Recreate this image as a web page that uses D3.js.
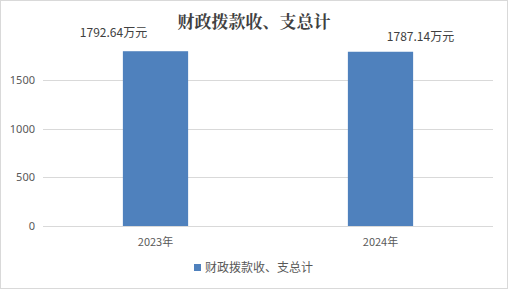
<!DOCTYPE html>
<html>
<head>
<meta charset="utf-8">
<script src="https://cdn.jsdelivr.net/npm/d3@7/dist/d3.min.js"></script>
<style>
  body { margin: 0; background: #fff; }
  svg text { font-family: "Noto Sans CJK SC", "Microsoft YaHei", sans-serif; }
</style>
</head>
<body>
<div id="app"></div>
<script>
const chartTitle = "财政拨款收、支总计";
const categories = ["2023年", "2024年"];
const values     = [1792.64, 1787.14];
const valueLabels = ["1792.64万元", "1787.14万元"];
const yTicks     = [0, 500, 1000, 1500];

const W = 508, H = 290;
const plot = { left: 43, right: 493, top: 31, bottom: 226 };

const svg = d3.select("#app").append("svg")
  .attr("width", W)
  .attr("height", H);

// outer frame
svg.append("rect")
  .attr("x", 0.5).attr("y", 0.5)
  .attr("width", W - 1).attr("height", H - 2)
  .attr("fill", "#fff")
  .attr("stroke", "#d9d9d9");

const x = d3.scaleBand()
  .domain(categories)
  .range([plot.left, plot.right])
  .paddingInner(0.71)
  .paddingOuter(0.355);

const y = d3.scaleLinear()
  .domain([0, 2000])
  .range([plot.bottom, plot.top]);

/* gridlines */
svg.append("g")
  .selectAll("line")
  .data(yTicks)
  .join("line")
    .attr("x1", plot.left).attr("x2", plot.right)
    .attr("y1", d => Math.round(y(d)) + 0.5)
    .attr("y2", d => Math.round(y(d)) + 0.5)
    .attr("stroke", "#d9d9d9");

/* Y axis labels */
svg.append("g")
  .attr("transform", `translate(${plot.left - 8},0)`)
  .call(d3.axisLeft(y).tickValues(yTicks).tickFormat(d3.format("d")).tickSize(0).tickPadding(0))
  .call(g => g.select(".domain").remove())
  .call(g => g.selectAll("text")
    .attr("fill", "#595959")
    .style("font-size", "11px")
    .style("font-family", "'Noto Sans', 'DejaVu Sans', sans-serif"));

/* bars */
svg.append("g")
  .selectAll("rect")
  .data(values)
  .join("rect")
    .attr("x", (d, i) => x(categories[i]))
    .attr("y", d => y(d))
    .attr("width", x.bandwidth())
    .attr("height", d => y(0) - y(d))
    .attr("fill", "#4f81bd");

/* value labels */
const labelShift = [-42, 40];
const labelY = [37, 41];
svg.append("g")
  .selectAll("text")
  .data(values)
  .join("text")
    .attr("x", (d, i) => x(categories[i]) + x.bandwidth() / 2 + labelShift[i])
    .attr("y", (d, i) => labelY[i])
    .attr("text-anchor", "middle")
    .attr("fill", "#404040")
    .style("font-size", "12px")
    .text((d, i) => valueLabels[i]);

/* X axis labels */
svg.append("g")
  .attr("transform", `translate(0,${plot.bottom})`)
  .call(d3.axisBottom(x).tickSize(0).tickPadding(12))
  .call(g => g.select(".domain").remove())
  .call(g => g.selectAll("text")
    .attr("fill", "#595959")
    .style("font-size", "11px"));

/* title */
svg.append("text")
  .attr("x", W / 2)
  .attr("y", 28)
  .attr("text-anchor", "middle")
  .attr("fill", "#404040")
  .style("font-size", "17px")
  .style("font-weight", "bold")
  .style("font-family", "'Noto Serif CJK SC', 'Noto Sans CJK SC', serif")
  .text(chartTitle);

/* legend */
const legend = svg.append("g").attr("transform", "translate(194,264)");
legend.append("rect")
  .attr("width", 7).attr("height", 7)
  .attr("fill", "#4f81bd");
legend.append("text")
  .attr("x", 11).attr("y", 8)
  .attr("fill", "#595959")
  .style("font-size", "12px")
  .text(chartTitle);
</script>
</body>
</html>
